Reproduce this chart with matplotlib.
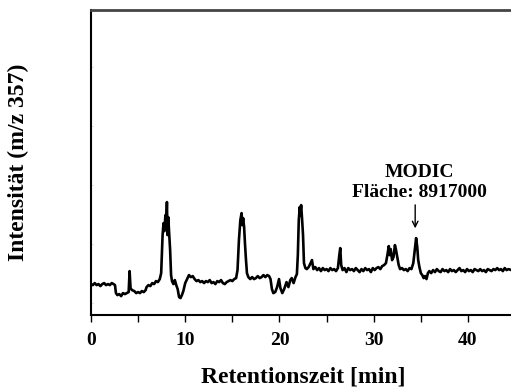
import numpy as np
import matplotlib
matplotlib.use('Agg')
import matplotlib.pyplot as plt
from matplotlib.ticker import MultipleLocator, NullFormatter, FixedLocator

# Retention time [min] and intensity (arbitrary units)
time = [
    0.0, 0.2, 0.4, 0.6, 0.8, 1.0, 1.2, 1.4, 1.6, 1.8, 2.0, 2.2, 2.4, 2.55,
    2.65, 2.8, 3.0, 3.2, 3.4, 3.6, 3.8, 4.0, 4.1, 4.2, 4.35, 4.6, 4.8, 5.0,
    5.2, 5.4, 5.6, 5.8, 5.9, 6.1, 6.3, 6.5, 6.7, 6.9, 7.1, 7.3, 7.45, 7.6,
    7.7, 7.8, 7.9, 8.0, 8.06, 8.12, 8.2, 8.3, 8.4, 8.5, 8.6, 8.75, 8.9, 9.05,
    9.2, 9.35, 9.5, 9.65, 9.8, 10.0, 10.2, 10.4, 10.6, 10.8, 11.0, 11.2, 11.4,
    11.6, 11.8, 12.0, 12.2, 12.4, 12.6, 12.8, 13.0, 13.2, 13.4, 13.6, 13.8,
    14.0, 14.2, 14.4, 14.6, 14.8, 15.0, 15.2, 15.4, 15.55, 15.7, 15.85, 15.98,
    16.05, 16.15, 16.25, 16.35, 16.45, 16.55, 16.7, 16.9, 17.1, 17.3, 17.5,
    17.7, 17.9, 18.1, 18.3, 18.5, 18.7, 18.9, 19.05, 19.2, 19.35, 19.55, 19.75,
    19.95, 20.1, 20.3, 20.5, 20.75, 20.95, 21.15, 21.3, 21.5, 21.7, 21.85,
    21.95, 22.05, 22.15, 22.2, 22.3, 22.4, 22.5, 22.6, 22.75, 22.9, 23.1, 23.3,
    23.45, 23.6, 23.8, 24.0, 24.2, 24.4, 24.6, 24.8, 25.0, 25.2, 25.4, 25.6,
    25.8, 26.0, 26.2, 26.35, 26.45, 26.55, 26.7, 26.9, 27.1, 27.3, 27.5, 27.7,
    27.9, 28.1, 28.3, 28.5, 28.7, 28.9, 29.1, 29.3, 29.5, 29.7, 29.9, 30.1,
    30.3, 30.5, 30.7, 30.9, 31.1, 31.3, 31.45, 31.6, 31.7, 31.8, 31.95, 32.1,
    32.25, 32.35, 32.5, 32.65, 32.8, 33.0, 33.2, 33.4, 33.6, 33.8, 34.0, 34.2,
    34.35, 34.5, 34.62, 34.72, 34.85, 35.0, 35.15, 35.3, 35.45, 35.6, 35.75,
    35.9, 36.1, 36.3, 36.5, 36.7, 36.9, 37.1, 37.3, 37.5, 37.7, 37.9, 38.1,
    38.3, 38.5, 38.7, 38.9, 39.1, 39.3, 39.5, 39.7, 39.9, 40.1, 40.3, 40.5,
    40.7, 40.9, 41.1, 41.3, 41.5, 41.7, 41.9, 42.1, 42.3, 42.5, 42.7, 42.9,
    43.1, 43.3, 43.5, 43.7, 43.9, 44.1, 44.3, 44.6,
]
intensity = [
    31, 30, 32, 30, 31, 29, 31, 32, 30, 31, 30, 32, 31, 30,
    22, 20, 21, 19, 22, 21, 22, 23, 44, 27, 25, 24, 22, 23,
    22, 24, 23, 25, 28, 30, 29, 32, 31, 34, 33, 36, 42, 80,
    92, 84, 100, 95, 113, 80, 98, 82, 65, 40, 34, 31, 35, 30,
    26, 18, 17, 20, 24, 32, 36, 40, 38, 39, 36, 34, 35,
    33, 34, 32, 34, 33, 35, 32, 33, 31, 34, 33, 35,
    32, 31, 33, 34, 35, 34, 36, 37, 45, 75, 95, 102,
    90, 97, 88, 70, 55, 42, 38, 36, 38, 36, 37,
    39, 37, 38, 40, 38, 40, 39, 36, 26, 22, 23, 28,
    36, 27, 22, 26, 33, 28, 35, 37, 32, 38, 41,
    60, 95, 108, 100, 110, 96, 80, 52, 47, 46, 48, 52,
    55, 46, 48, 45, 47, 44, 47, 45, 46, 44, 47, 45,
    46, 44, 47, 60, 67, 50, 45, 47, 43, 47, 45, 46,
    44, 47, 45, 43, 46, 44, 47, 45, 46, 43, 47, 45,
    47, 48, 46, 49, 50, 52, 60, 69, 60, 66, 55, 58,
    70, 66, 58, 50, 46, 47, 45, 46, 44, 47, 46, 52,
    65, 77, 68, 55, 48, 42, 40, 37, 39, 36, 42,
    44, 42, 45, 43, 46, 44, 43, 46, 44, 45, 43, 46,
    44, 45, 43, 45, 47, 44, 45, 43, 46, 44, 45, 43,
    46, 45, 44, 46, 44, 45, 43, 46, 45, 44, 46, 45,
    47, 45, 46, 44, 47, 45, 46, 45,
]

peak_time = 34.5
peak_label = "MODIC\nFläche: 8917000"

plt.rcParams['font.family'] = ['Liberation Serif', 'DejaVu Serif']
plt.rcParams['font.weight'] = 'bold'

fig = plt.figure(figsize=(5.11, 3.89), dpi=100)
ax = fig.add_axes([0.178, 0.19, 0.83, 0.784])

ax.plot(time, intensity, color='black', lw=1.9)

ax.set_xlim(0, 45)
ax.set_ylim(0, 305)

# Spines: top grey, right off canvas
ax.spines['right'].set_visible(False)
ax.spines['top'].set_color('#444444')
ax.spines['top'].set_linewidth(2)
ax.spines['left'].set_linewidth(1.5)
ax.spines['bottom'].set_linewidth(1.5)

ax.xaxis.set_major_locator(MultipleLocator(10))
ax.xaxis.set_minor_locator(MultipleLocator(5))
ax.tick_params(axis='x', which='both', direction='out', length=5, width=1,
               labelsize=14, pad=7)
ax.tick_params(axis='x', which='minor', length=5)
ax.yaxis.set_major_locator(FixedLocator([12, 71, 130, 189, 248]))
ax.yaxis.set_major_formatter(NullFormatter())
ax.tick_params(axis='y', direction='in', length=1.5, width=0.6, color='#d0d0d0')

ax.set_xlabel('Retentionszeit [min]', fontsize=17, fontweight='bold')
ax.set_ylabel('Intensität (m/z 357)', fontsize=17, fontweight='bold')
ax.xaxis.set_label_coords(0.5, -0.17)
ax.yaxis.set_label_coords(-0.147, 0.5)

ax.annotate('', xy=(peak_time - 0.1, 84), xytext=(peak_time - 0.1, 113),
            arrowprops=dict(arrowstyle='->', color='black', lw=1))
ax.text(peak_time + 0.3, 114, peak_label, ha='center', va='bottom',
        fontsize=14, fontweight='bold', linespacing=1.25)

fig.savefig('out.png', dpi=100)
